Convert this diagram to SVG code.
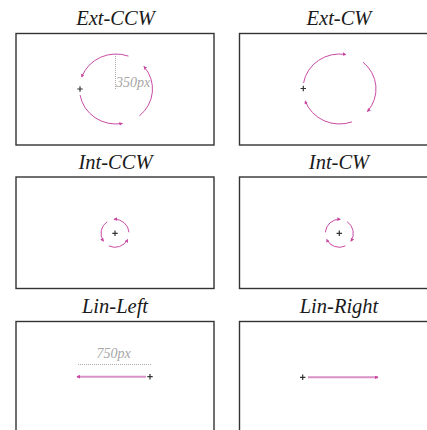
<svg xmlns="http://www.w3.org/2000/svg" width="427" height="430" viewBox="0 0 427 430">
<style>
.panel{fill:#fff;stroke:#333;stroke-width:1.4}
.title{font-family:"Liberation Serif",serif;font-style:italic;font-size:20.5px;fill:#1a1a1a;text-anchor:middle}
.lbl{font-family:"Liberation Serif",serif;font-style:italic;font-size:14px;fill:#a6a6a6}
.arc{fill:none;stroke:#c94ba5;stroke-width:1}
.lin{fill:none;stroke:#d991c6;stroke-width:2}
.dot{fill:none;stroke:#aaa;stroke-width:1;stroke-dasharray:1 1}
.cross{stroke:#333;stroke-width:1.2;fill:none}
</style>
<defs>
<marker id="ah" viewBox="0 0 6 6" refX="5" refY="3" markerWidth="3.6" markerHeight="3.6" markerUnits="userSpaceOnUse" orient="auto">
<path d="M0,0 L6,3 L0,6 z" fill="#c8449f"/>
</marker>
<path id="cr" class="cross" d="M-2.7,0 H2.7 M0,-2.7 V2.7"/>
</defs>
<rect width="427" height="430" fill="#fff"/>
<g id="ext-ccw">
<text class="title" x="115.5" y="24.5">Ext-CCW</text>
<rect class="panel" x="16" y="33.5" width="198" height="111.5"/>
<line class="dot" x1="115.5" y1="54" x2="115.5" y2="89"/>
<text class="lbl" x="116" y="86.5">350px</text>
<use href="#cr" x="80" y="89"/>
</g>
<g id="ext-cw">
<text class="title" x="339" y="24.5">Ext-CW</text>
<rect class="panel" x="239.5" y="33.5" width="198" height="111.5"/>
<use href="#cr" x="303.3" y="88.5"/>
</g>
<g id="int-ccw">
<text class="title" x="115.5" y="168.5">Int-CCW</text>
<rect class="panel" x="16" y="177" width="198" height="111.5"/>
<use href="#cr" x="115" y="233.3"/>
</g>
<g id="int-cw">
<text class="title" x="339" y="168.5">Int-CW</text>
<rect class="panel" x="239.5" y="177" width="198" height="111.5"/>
<use href="#cr" x="339.3" y="233.3"/>
</g>
<g id="lin-left">
<text class="title" x="115" y="312.5">Lin-Left</text>
<rect class="panel" x="16" y="321.5" width="198" height="120"/>
<text class="lbl" x="113.5" y="358" text-anchor="middle">750px</text>
<line class="dot" x1="78" y1="364.5" x2="152" y2="364.5"/>
<use href="#cr" x="150" y="376.7"/>
</g>
<g id="lin-right">
<text class="title" x="339" y="312.5">Lin-Right</text>
<rect class="panel" x="239.5" y="321.5" width="198" height="120"/>
<use href="#cr" x="302.7" y="377.3"/>
</g>
<g id="connectors">
<path class="arc" marker-end="url(#ah)" d="M128.48,56.11 A36.5,35 0 0 0 81.7,77.03"/>
<path class="arc" marker-end="url(#ah)" d="M80.05,95.08 A36.5,35 0 0 0 122.34,123.47"/>
<path class="arc" marker-end="url(#ah)" d="M139.46,115.81 A36.5,35 0 0 0 143.96,66.5"/>
<path class="arc" marker-end="url(#ah)" d="M303.55,82.92 A36.5,35 0 0 1 345.84,54.53"/>
<path class="arc" marker-end="url(#ah)" d="M362.96,62.19 A36.5,35 0 0 1 367.46,111.5"/>
<path class="arc" marker-end="url(#ah)" d="M351.98,121.89 A36.5,35 0 0 1 305.2,100.97"/>
<path class="arc" marker-end="url(#ah)" d="M128.97,232.32 A14,14 0 0 0 114.02,219.33"/>
<path class="arc" marker-end="url(#ah)" d="M107.17,221.69 A14,14 0 0 0 103.39,241.13"/>
<path class="arc" marker-end="url(#ah)" d="M108.86,245.88 A14,14 0 0 0 127.58,239.44"/>
<path class="arc" marker-end="url(#ah)" d="M325.33,232.32 A14,14 0 0 1 340.28,219.33"/>
<path class="arc" marker-end="url(#ah)" d="M347.13,221.69 A14,14 0 0 1 350.91,241.13"/>
<path class="arc" marker-end="url(#ah)" d="M345.44,245.88 A14,14 0 0 1 326.72,239.44"/>
<path class="lin" marker-end="url(#ah)" d="M146,376.7 H77"/>
<path class="lin" marker-end="url(#ah)" d="M308,377.3 H378"/>
</g>
</svg>
